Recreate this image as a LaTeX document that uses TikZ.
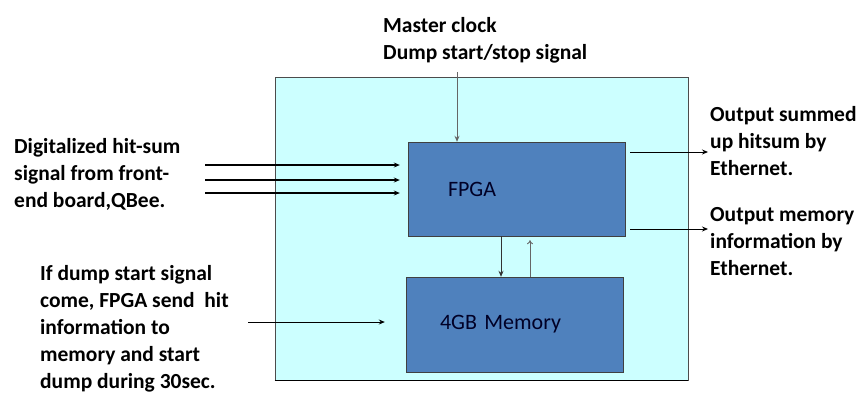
\documentclass[tikz,border=0pt]{standalone}
\usepackage{fontspec}
\setmainfont{Carlito}
\usetikzlibrary{positioning,arrows.meta}
\definecolor{boardfill}{RGB}{204,255,255}
\definecolor{chipfill}{RGB}{79,129,189}
\begin{document}
\begin{tikzpicture}[x=1pt,y=-1pt,>={Stealth[length=6pt,width=5pt]},
  txt/.style={font=\bfseries\fontsize{21.5}{27}\selectfont,align=left,inner sep=0pt,anchor=base west},
  chip/.style={draw=black!75,fill=chipfill,minimum height=94pt,inner ysep=0pt,align=left,
    font=\fontsize{22}{26}\selectfont,text=black!85!blue}]
  \useasboundingbox (0,0) rectangle (866,392);

  % board and chips
  \node[draw=black!70,fill=boardfill,line width=0.9pt,minimum width=413pt,
    minimum height=303pt,inner sep=0pt] (board) at (481.5,228.5) {};
  \draw[line width=1.8pt] (board.south west) -- (board.south east);
  \node[chip,inner xsep=40pt,text width=137pt] (fpga) at (516.5,189) {FPGA};
  \node[chip,inner xsep=34pt,text width=149pt,minimum height=95pt] (mem) at (514.5,324.5) {4GB Memory};

  % labels (placed by the baseline of their last line)
  \node[txt] (clk) at (383,59) {Master clock\\Dump start/stop signal};
  \node[txt] (hits) at (14,207) {Digitalized hit-sum\\signal from front-\\end board,QBee.};
  \node[txt] (dump) at (40,388) {If dump start signal\\come, FPGA send~ hit\\information to\\memory and start\\dump during 30sec.};
  \node[txt] (outsum) at (710,175) {Output summed\\up hitsum by\\Ethernet.};
  \node[txt] (outmem) at (710,275) {Output memory\\information by\\Ethernet.};

  % connectors
  \coordinate (clkin) at (457,72);
  \draw[->,color=black!60,line width=0.9pt] (clkin) -- (clkin |- fpga.north);
  \foreach \y/\n in {165/1,180/2,193/3} {
    \coordinate (hitin\n) at (205,\y);
    \draw[->,line width=1.2pt,shorten >=8pt] (hitin\n) -- (hitin\n -| fpga.west);
  }
  \coordinate (dumpin) at (248,322);
  \draw[->,line width=0.9pt,shorten >=21pt] (dumpin) -- (dumpin -| mem.west);

  \coordinate (dn) at ([xshift=-15.5pt]fpga.south);
  \draw[->,color=black!80,line width=0.9pt] (dn) -- (dn |- mem.north);
  \coordinate (up) at ([xshift=15.5pt]mem.north);
  \draw[-{To[length=4pt,width=6pt]},color=black!60,line width=0.9pt,shorten >=4pt] (up) -- (up |- fpga.south);

  \coordinate (sumout) at (708,152);
  \coordinate (memout) at (708,229);
  \draw[->,line width=0.9pt,shorten <=5pt] (sumout -| fpga.east) -- (sumout);
  \draw[->,line width=0.9pt,shorten <=5pt] (memout -| fpga.east) -- (memout);

\end{tikzpicture}
\end{document}
